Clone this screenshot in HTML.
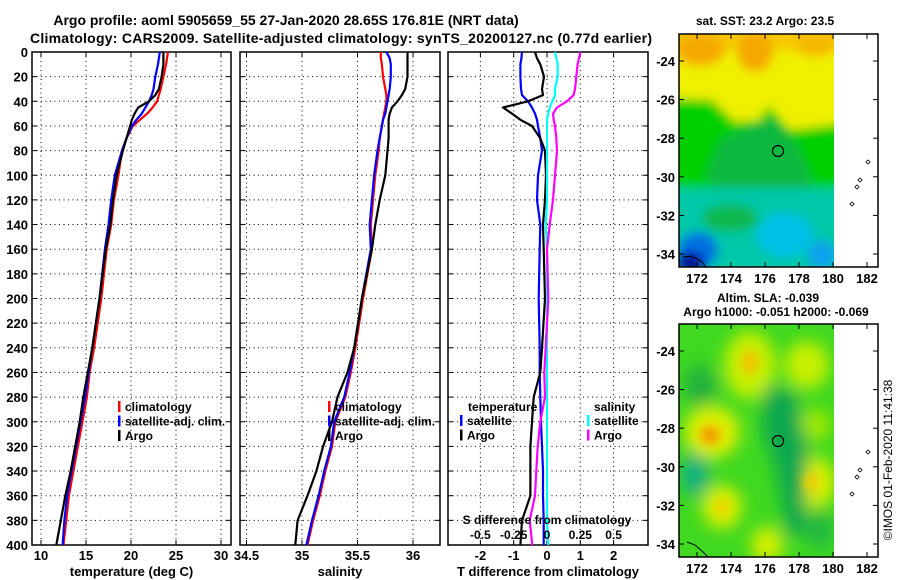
<!DOCTYPE html>
<html><head><meta charset="utf-8"><style>
body{margin:0;background:#fff}
svg{display:block;font-family:"Liberation Sans",sans-serif;font-weight:bold}
</style></head><body>
<svg id="c" width="900" height="580" viewBox="0 0 900 580" xmlns="http://www.w3.org/2000/svg">
<defs>
<filter id="bl" x="-50%" y="-50%" width="200%" height="200%"><feGaussianBlur stdDeviation="5"/></filter>
<filter id="bl2" x="-50%" y="-50%" width="200%" height="200%"><feGaussianBlur stdDeviation="8"/></filter>
<clipPath id="m1"><rect x="679" y="34" width="155" height="233"/></clipPath>
<clipPath id="m2"><rect x="679" y="324" width="155" height="233"/></clipPath>
</defs>
<text x="286" y="25" font-size="14" text-anchor="middle">Argo profile: aoml 5905659_55 27-Jan-2020 28.65S 176.81E (NRT data)</text>
<text x="30" y="43" font-size="14" textLength="622">Climatology: CARS2009. Satellite-adjusted climatology: synTS_20200127.nc (0.77d earlier)</text>

<g>
<g clip-path="url(#m1)">
<rect x="679" y="34" width="155" height="233" fill="#00c8a8"/>
<g filter="url(#bl)">
<rect x="660" y="10" width="195" height="120" fill="#f0f000"/>
<rect x="660" y="10" width="195" height="40" fill="#f8c800"/>
<ellipse cx="700" cy="50" rx="25" ry="16" fill="#f5a800"/>
<ellipse cx="755" cy="52" rx="18" ry="20" fill="#f5a800"/>
<ellipse cx="815" cy="45" rx="20" ry="12" fill="#f5b800"/>
<polygon points="660,98 712,100 735,122 760,120 768,105 790,130 808,128 855,122 855,192 660,192" fill="#00d000"/>
<polygon points="720,140 752,125 772,118 795,140 812,178 800,200 730,195 705,178" fill="#10b840"/>
<rect x="660" y="188" width="195" height="90" fill="#00c8a8"/>
<ellipse cx="730" cy="218" rx="28" ry="14" fill="#10b850"/>
<ellipse cx="785" cy="235" rx="28" ry="22" fill="#00c0e8"/>
<ellipse cx="822" cy="255" rx="14" ry="14" fill="#10a0f0"/>
<ellipse cx="698" cy="250" rx="20" ry="18" fill="#0070e0"/>
</g>
<ellipse cx="690" cy="263" rx="13" ry="9" fill="#001090" filter="url(#bl)"/>
<path d="M683,257 L692,256 L702,262 L706,267" fill="none" stroke="#000" stroke-width="1"/>
</g>
<circle cx="778" cy="151" r="5.5" fill="none" stroke="#000" stroke-width="1.2"/>
<rect x="679" y="34" width="199" height="233" fill="none" stroke="#000" stroke-width="1.5"/>
<text x="765" y="25" font-size="12" text-anchor="middle">sat. SST: 23.2 Argo: 23.5</text>
</g>

<g>
<g clip-path="url(#m2)">
<rect x="679" y="324" width="155" height="233" fill="#40d820"/>
<g filter="url(#bl2)">
<ellipse cx="750" cy="365" rx="26" ry="34" fill="#c8f000"/>
<ellipse cx="807" cy="365" rx="22" ry="24" fill="#c8f000"/>
<ellipse cx="712" cy="432" rx="28" ry="26" fill="#e0f000"/>
<ellipse cx="812" cy="482" rx="24" ry="26" fill="#d8f000"/>
<ellipse cx="722" cy="507" rx="20" ry="22" fill="#d8f000"/>
<ellipse cx="767" cy="545" rx="16" ry="18" fill="#d8f000"/>
<ellipse cx="815" cy="425" rx="16" ry="16" fill="#a0e800"/>
<ellipse cx="695" cy="475" rx="14" ry="22" fill="#10b080"/>
<polygon points="765,385 795,392 808,450 805,530 788,540 776,470 762,430" fill="#10a850"/>
<ellipse cx="700" cy="385" rx="16" ry="20" fill="#20b040"/>
<ellipse cx="820" cy="530" rx="14" ry="20" fill="#20b840"/>
</g>
<g filter="url(#bl)">
<ellipse cx="750" cy="362" rx="8" ry="12" fill="#f5c000"/>
<ellipse cx="710" cy="435" rx="10" ry="9" fill="#f59800"/>
<ellipse cx="812" cy="482" rx="8" ry="9" fill="#f0d000"/>
<ellipse cx="722" cy="507" rx="7" ry="8" fill="#f0d000"/>
</g>
<path d="M687,542 L695,545 L702,551 L708,557" fill="none" stroke="#000" stroke-width="1"/>
</g>
<circle cx="778" cy="441" r="5.5" fill="none" stroke="#000" stroke-width="1.2"/>
<rect x="679" y="324" width="199" height="233" fill="none" stroke="#000" stroke-width="1.5"/>
<text x="768" y="302" font-size="12" text-anchor="middle">Altim. SLA: -0.039</text>
<text x="776" y="316" font-size="12" text-anchor="middle">Argo h1000: -0.051 h2000: -0.069</text>
</g>
<text transform="translate(892,460) rotate(-90)" font-size="12" font-weight="normal" text-anchor="middle">©IMOS 01-Feb-2020 11:41:38</text>

<g id="plots"></g>
</svg>
<script>
const depths = [0,5,10,20,30,35,40,45,50,55,60,70,80,100,120,140,160,200,240,260,280,300,320,340,360,380,400];
const tClim = [24.1,24.0,23.9,23.6,23.3,23.1,22.9,22.4,21.8,21.0,20.2,19.5,19.0,18.6,18.1,17.8,17.3,16.7,15.9,15.4,15.1,14.6,14.1,13.6,13.1,12.8,12.5];
const tSat  = [23.2,23.1,23.0,22.7,22.5,22.3,22.0,21.6,21.2,20.6,20.1,19.5,19.0,18.2,17.8,17.5,17.1,16.5,15.7,15.3,14.9,14.4,13.9,13.4,12.9,12.6,12.4];
const tArgo = [23.6,23.6,23.6,23.4,23.1,22.7,22.0,20.8,20.4,20.1,19.9,19.5,19.1,18.4,18.0,17.7,17.2,16.5,15.7,15.2,14.7,14.3,13.8,13.3,12.7,12.2,11.7];
const sClim = [35.71,35.71,35.72,35.73,35.75,35.76,35.76,35.75,35.74,35.73,35.72,35.70,35.69,35.66,35.64,35.62,35.63,35.55,35.48,35.44,35.39,35.30,35.27,35.21,35.16,35.10,35.05];
const sSat  = [35.76,35.79,35.80,35.80,35.79,35.78,35.77,35.76,35.75,35.73,35.72,35.70,35.68,35.65,35.63,35.61,35.62,35.54,35.47,35.43,35.38,35.29,35.26,35.20,35.15,35.09,35.04];
const sArgo = [35.95,35.95,35.95,35.95,35.93,35.90,35.86,35.81,35.79,35.78,35.78,35.78,35.77,35.75,35.70,35.66,35.63,35.54,35.47,35.41,35.32,35.27,35.19,35.13,35.05,34.96,34.94];
const dtSat  = [-0.75,-0.77,-0.8,-0.8,-0.78,-0.75,-0.57,-0.45,-0.36,-0.3,-0.27,-0.2,-0.15,-0.27,-0.3,-0.2,-0.22,-0.25,-0.22,-0.22,-0.2,-0.18,-0.15,-0.12,-0.12,-0.1,-0.1];
const dtArgo = [-0.36,-0.3,-0.2,-0.09,-0.15,-0.12,-0.57,-1.32,-1.05,-0.8,-0.45,-0.2,-0.06,-0.03,-0.06,-0.12,-0.1,-0.06,-0.15,-0.2,-0.4,-0.45,-0.5,-0.5,-0.5,-0.75,-0.8];
const dsSat  = [0.06,0.07,0.08,0.08,0.06,0.06,0.04,0.02,0.01,0.0,0.0,0.0,0.0,0.0,0.0,-0.01,0.0,0.0,0.0,0.0,0.0,0.0,0.0,0.0,0.0,0.0,0.01];
const dsArgo = [0.25,0.24,0.23,0.22,0.21,0.2,0.15,0.075,0.045,0.05,0.06,0.07,0.075,0.06,0.045,0.02,0.0,0.01,-0.01,-0.02,-0.015,-0.05,-0.07,-0.08,-0.09,-0.13,-0.11];
const depthTicks = [0,20,40,60,80,100,120,140,160,180,200,220,240,260,280,300,320,340,360,380,400];
const tTicks = [10,15,20,25,30];
const sTicks = [34.5,35,35.5,36];
const dTTicks = [-2,-1,0,1,2];
const dSTicks = [-0.5,-0.25,0,0.25,0.5];
const latTicks = [-24,-26,-28,-30,-32,-34];
const lonTicks = [172,174,176,178,180,182];

const NS='http://www.w3.org/2000/svg';
const root=document.getElementById('plots');
function mk(tag,at,parent){const e=document.createElementNS(NS,tag);for(const k in at)e.setAttribute(k,at[k]);(parent||root).appendChild(e);return e;}
const Y0=52,Y1=545;
const yD=d=>Y0+(Y1-Y0)*d/400;
const xT=v=>41+9*(v-10);
const xS=v=>302+111*(v-35);
const xDT=v=>547+33.3*v;
const xDS=v=>547+133.2*v;

function panel(name,x0,x1,xs,gridVals,fn,labels,axisTitle,showDepth){
  const g=mk('g',{});
  
  
  depthTicks.forEach(d=>{
    if(d>0&&d<400){const l=mk('line',{x1:x0,x2:x1,y1:yD(d),y2:yD(d),stroke:'#000','stroke-width':1,'stroke-dasharray':'1,3.5'},g);
      }
    mk('line',{x1:x0,x2:x0+5,y1:yD(d),y2:yD(d),stroke:'#000','stroke-width':1},g);
    mk('line',{x1:x1-5,x2:x1,y1:yD(d),y2:yD(d),stroke:'#000','stroke-width':1},g);
    if(showDepth){const t=mk('text',{x:28,y:yD(d)+5,'font-size':13,'text-anchor':'end'},g);t.textContent=d;
      }
  });
  gridVals.forEach((v,i)=>{
    const x=xs(v);
    const l=mk('line',{x1:x,x2:x,y1:Y0,y2:Y1,stroke:'#000','stroke-width':1,'stroke-dasharray':'1,3.5'},g);
    
    mk('line',{x1:x,x2:x,y1:Y1-5,y2:Y1,stroke:'#000'},g);
    mk('line',{x1:x,x2:x,y1:Y0,y2:Y0+5,stroke:'#000'},g);
    const t=mk('text',{x:x,y:560,'font-size':13,'text-anchor':'middle'},g);t.textContent=labels[i];
    
  });
  mk('rect',{x:x0,y:Y0,width:x1-x0,height:Y1-Y0,fill:'none',stroke:'#000','stroke-width':1.5},g);
  const at=mk('text',{x:(x0+x1)/2,y:576,'font-size':13,'text-anchor':'middle'},g);at.textContent=axisTitle;
  
  fn(g);
  return g;
}
function line(g,name,vals,xs,color){
  const p=mk('polyline',{points:vals.map((v,i)=>xs(v).toFixed(1)+','+yD(depths[i]).toFixed(1)).join(' '),fill:'none',stroke:color,'stroke-width':2.2,'stroke-linejoin':'round'},g);
  
  
}
function legend(g,x,y,items){
  items.forEach((it,i)=>{
    const yy=y+i*14.5;
    mk('rect',{x:x,y:yy-10,width:2.5,height:11,fill:it[1]},g);
    const t=mk('text',{x:x+7,y:yy,'font-size':12},g);t.textContent=it[0];
    
  });
}
panel('temperature-panel',32,231,xT,tTicks,g=>{
  line(g,'temp-climatology-line',tClim,xT,'#ff0000');
  line(g,'temp-satellite-line',tSat,xT,'#0000ff');
  line(g,'temp-argo-line',tArgo,xT,'#000000');
  legend(g,118,411,[['climatology','#f00'],['satellite-adj. clim.','#00f'],['Argo','#000']]);
},tTicks,'temperature (deg C)',true);
panel('salinity-panel',240,440,xS,sTicks,g=>{
  line(g,'sal-climatology-line',sClim,xS,'#ff0000');
  line(g,'sal-satellite-line',sSat,xS,'#0000ff');
  line(g,'sal-argo-line',sArgo,xS,'#000000');
  legend(g,328,411,[['climatology','#f00'],['satellite-adj. clim.','#00f'],['Argo','#000']]);
},sTicks,'salinity',false);
panel('difference-panel',448,648,xDT,dTTicks,g=>{
  line(g,'temp-diff-satellite-line',dtSat,xDT,'#0000ff');
  line(g,'temp-diff-argo-line',dtArgo,xDT,'#000000');
  line(g,'sal-diff-satellite-line',dsSat,xDS,'#00ffff');
  line(g,'sal-diff-argo-line',dsArgo,xDS,'#ff00ff');
  let t=mk('text',{x:468,y:411,'font-size':12},g);t.textContent='temperature';
  
  t=mk('text',{x:594,y:411,'font-size':12},g);t.textContent='salinity';
  
  legend(g,460,425,[['satellite','#00f'],['Argo','#000']]);
  legend(g,587,425,[['satellite','#0ff'],['Argo','#f0f']]);
  t=mk('text',{x:547,y:524,'font-size':12,'text-anchor':'middle'},g);t.textContent='S difference from climatology';
  
  dSTicks.forEach(v=>{const s=mk('text',{x:xDS(v),y:539,'font-size':12,'text-anchor':'middle'},g);s.textContent=v;
    });
},dTTicks,'T difference from climatology',false);

[[34,267],[324,557]].forEach(([top,bot],mi)=>{
  const g=mk('g',{});
  
  
  const yL=lat=>top+27+19.3*(-24-lat);
  const xL=lon=>697+17*(lon-172);
  latTicks.forEach(l=>{
    const y=yL(l);
    mk('line',{x1:679,x2:684,y1:y,y2:y,stroke:'#000'},g);
    mk('line',{x1:873,x2:878,y1:y,y2:y,stroke:'#000'},g);
    const t=mk('text',{x:675,y:y+5,'font-size':13,'text-anchor':'end'},g);t.textContent=l;
    
  });
  lonTicks.forEach(l=>{
    const x=xL(l);
    mk('line',{x1:x,x2:x,y1:top,y2:top+5,stroke:'#000'},g);
    mk('line',{x1:x,x2:x,y1:bot-5,y2:bot,stroke:'#000'},g);
    const t=mk('text',{x:x,y:bot+16,'font-size':13,'text-anchor':'middle'},g);t.textContent=l;
    
  });
  [[852,204],[857,187],[860,180],[868,162]].forEach(([x,y])=>{
    mk('rect',{x:x-1.5,y:y-1.5+mi*290,width:3,height:3,fill:'none',stroke:'#000','stroke-width':0.8,transform:`rotate(45 ${x} ${y+mi*290})`},g);
  });
});
</script>
</body></html>
